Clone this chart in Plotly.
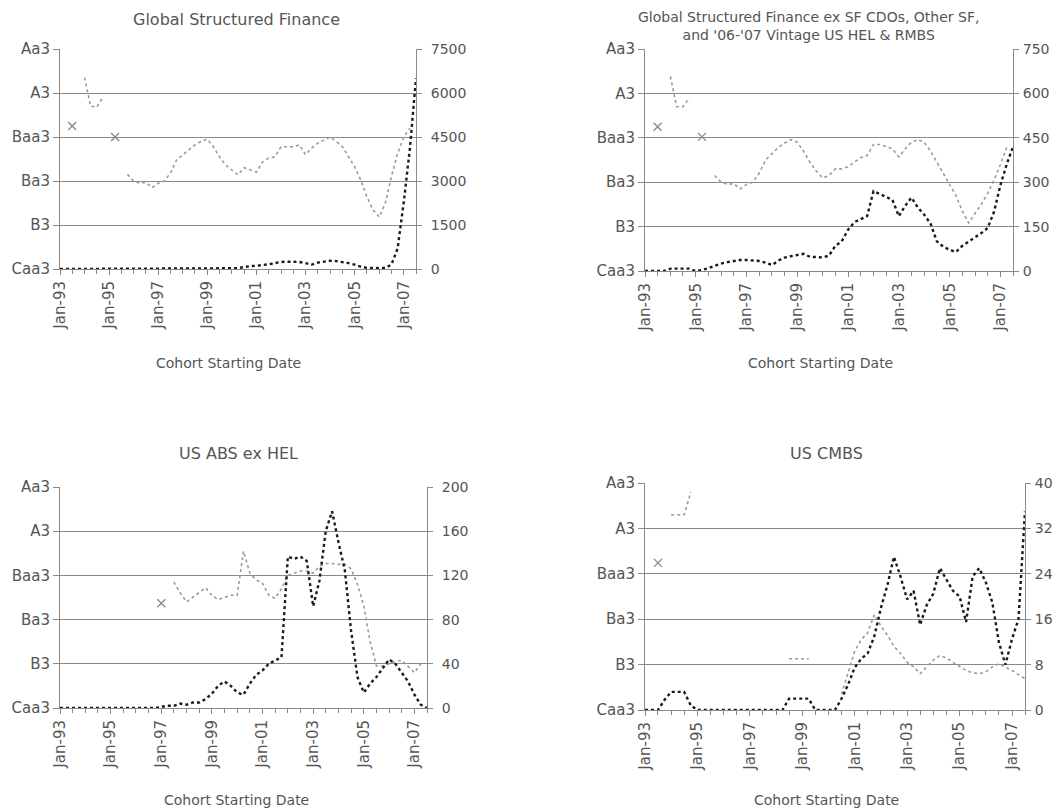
import pandas as pd
import plotly.graph_objects as go

# quarterly cohorts, Jan-93 .. Jul-07
dates = pd.date_range("1993-01-01", "2007-07-01", freq="QS")

rating_labels = ["Caa3", "B3", "Ba3", "Baa3", "A3", "Aa3"]
N = None

# panel 1: Global Structured Finance
gsf_rating = [N, N, 3.25, N, 4.35, 3.7, 3.68, 3.9, N, 3.0, N, 2.15, 2.0, 1.95, 1.97, 1.85,
              1.95, 2.0, 2.18, 2.48, 2.6, 2.72, 2.82, 2.9, 2.95, 2.78, 2.55, 2.36, 2.25, 2.14,
              2.3, 2.25, 2.2, 2.43, 2.52, 2.55, 2.78, 2.78, 2.78, 2.82, 2.6, 2.75, 2.86, 2.93,
              3.0, 2.9, 2.78, 2.55, 2.32, 2.02, 1.64, 1.34, 1.18, 1.5, 2.1, 2.63, 3.0, 3.2, N]
gsf_count = [0, 0, 0, 0, 0, 0, 0, 0, 0, 0, 0, 5, 5, 5, 5, 10,
             20, 25, 25, 25, 25, 20, 20, 25, 25, 25, 25, 20, 25, 30,
             70, 100, 110, 130, 160, 200, 240, 250, 250, 240, 200, 150, 220, 260,
             280, 270, 240, 200, 150, 80, 40, 30, 30, 40, 150, 700, 2300, 4100, 6500]

# panel 2: GSF ex SF CDOs, Other SF, and '06-'07 vintage US HEL & RMBS
gsfx_rating = [N, N, 3.25, N, 4.38, 3.7, 3.7, 3.9, N, 3.02, N, 2.15, 2.0, 1.95, 1.97, 1.85,
               1.95, 2.0, 2.2, 2.5, 2.65, 2.78, 2.88, 2.96, 2.9, 2.7, 2.45, 2.25, 2.1, 2.15,
               2.3, 2.3, 2.35, 2.45, 2.55, 2.6, 2.85, 2.85, 2.8, 2.75, 2.57, 2.75, 2.9, 2.96,
               2.9, 2.7, 2.45, 2.2, 1.95, 1.7, 1.35, 1.08, 1.3, 1.5, 1.75, 2.05, 2.4, 2.78, N]
gsfx_count = [0, 0, 0, 0, 8, 8, 8, 8, 0, 3, 10, 18, 25, 30, 34, 37,
              37, 36, 34, 28, 20, 35, 45, 50, 55, 58, 48, 46, 46, 52,
              85, 100, 140, 165, 175, 185, 270, 260, 250, 240, 185, 220, 248, 215,
              190, 160, 100, 82, 72, 64, 85, 100, 112, 128, 145, 200, 290, 360, 420]

# panel 3: US ABS ex HEL
abs_rating = [N, N, N, N, N, N, N, N, N, N, N, N, N, N, N, N,
              2.37, N, 2.85, 2.6, 2.4, 2.5, 2.6, 2.72, 2.55, 2.45, 2.5, 2.55, 2.55, 3.55,
              3.05, 2.9, 2.82, 2.55, 2.48, 2.7, 3.0, 3.05, 3.1, 3.1, 3.05, 3.2, 3.27, 3.27,
              3.25, 3.25, 3.15, 2.8, 2.3, 1.5, 0.95, 0.95, 1.0, 1.05, 1.08, 0.95, 0.8, 1.0, N]
abs_count = [0, 0, 0, 0, 0, 0, 0, 0, 0, 0, 0, 0, 0, 0, 0, 0,
             1, 2, 2, 4, 3, 5, 5, 8, 13, 20, 24, 20, 14, 12,
             22, 30, 34, 40, 43, 46, 137, 135, 137, 133, 92, 115, 160, 178,
             150, 125, 70, 28, 14, 22, 28, 36, 44, 40, 32, 24, 12, 3, 0]

# panel 4: US CMBS
cmbs_rating = [N, N, 3.24, N, 4.3, 4.3, 4.3, 4.8, N, N, N, N, N, N, N, N,
               N, N, N, N, N, N, 1.13, 1.13, 1.13, 1.13, N, N, N, N,
               0.35, 0.85, 1.3, 1.55, 1.7, 2.1, 1.85, 1.65, 1.4, 1.25, 1.05, 0.95, 0.8, 0.95,
               1.1, 1.2, 1.15, 1.05, 0.95, 0.87, 0.82, 0.8, 0.84, 0.95, 1.02, 0.95, 0.87, 0.78, 0.69]
cmbs_count = [0, 0, 0, 1.8, 3.2, 3.2, 3.2, 0.8, 0, 0, 0, 0, 0, 0, 0, 0,
              0, 0, 0, 0, 0, 0, 2, 2, 2, 2, 0, 0, 0, 0,
              2, 4.5, 7.5, 9, 10, 13, 18, 22, 27, 23.5, 19.5, 21, 15, 18.5,
              20.5, 25, 23, 21, 20, 15.5, 23.5, 25, 22.5, 19, 12, 8, 12.5, 16, 35]

titles = ["Global Structured Finance",
          "Global Structured Finance ex SF CDOs, Other SF,<br>and '06-'07 Vintage US HEL & RMBS",
          "US ABS ex HEL",
          "US CMBS"]
title_size = [16, 14, 16, 16]
right_max = [7500, 750, 200, 40]

panels = [(gsf_rating, gsf_count), (gsfx_rating, gsfx_count),
          (abs_rating, abs_count), (cmbs_rating, cmbs_count)]

W, H = 1058, 809
# plot boxes in pixels: left, right, top, bottom
boxes = [(60, 416, 49, 269), (645, 1013, 49, 271), (60, 427, 487, 708), (645, 1025, 483, 710)]
title_pos = [(236, 19), (808, 26), (238, 453), (826, 453)]
xtitle_pos = [(228, 363), (820, 363), (236, 800), (826, 800)]
right_standoff = [6, 1, 6, 1]

TXT = "#555"
FONT = "DejaVu Sans"
GRID = "#8a8a8a"

fig = go.Figure()
layout = {}
for k, ((rat, cnt), box) in enumerate(zip(panels, boxes)):
    n = k + 1
    xa = "x" if n == 1 else f"x{n}"
    yl = 2 * n - 1
    yr = 2 * n
    yla = "y" if yl == 1 else f"y{yl}"
    yra = f"y{yr}"
    l, r, t, b = box
    xdom = [l / W, r / W]
    ydom = [1 - b / H, 1 - t / H]

    fig.add_trace(go.Scatter(x=dates, y=rat, xaxis=xa, yaxis=yla, mode="lines",
                             line=dict(color="#9a9a9a", width=1.6, dash="dot"),
                             connectgaps=False, hoverinfo="skip"))
    # lone observations show as x markers
    iso_x, iso_y = [], []
    for i, v in enumerate(rat):
        prev_none = i == 0 or rat[i - 1] is None
        next_none = i == len(rat) - 1 or rat[i + 1] is None
        if v is not None and prev_none and next_none:
            iso_x.append(dates[i])
            iso_y.append(v)
    fig.add_trace(go.Scatter(x=iso_x, y=iso_y, xaxis=xa, yaxis=yla, mode="markers",
                             marker=dict(symbol="x-thin", size=8,
                                         line=dict(color="#888", width=1.3)),
                             hoverinfo="skip"))
    fig.add_trace(go.Scatter(x=dates, y=cnt, xaxis=xa, yaxis=yra, mode="lines",
                             line=dict(color="#1a1a1a", width=2.4, dash="dot"),
                             hoverinfo="skip"))

    layout[f"xaxis{'' if n == 1 else n}"] = dict(
        domain=xdom, anchor=yla, type="date",
        range=[dates[0], dates[-1]],
        tick0="1993-01-01", dtick="M24", tickformat="%b-%y", tickangle=-90,
        ticks="outside", ticklen=5, tickcolor=GRID,
        minor=dict(dtick="M6", ticks="outside", ticklen=4, tickcolor=GRID),
        showline=True, linecolor=GRID, linewidth=1, showgrid=False, automargin=False,
        tickfont=dict(family=FONT, size=15, color=TXT))
    layout[f"yaxis{'' if yl == 1 else yl}"] = dict(
        domain=ydom, anchor=xa, range=[0, 5],
        tickvals=list(range(6)), ticktext=rating_labels,
        ticks="outside", ticklen=6, tickcolor=GRID,
        showgrid=True, gridcolor=GRID, gridwidth=1, zeroline=False,
        showline=True, linecolor=GRID, linewidth=1, automargin=False,
        tickfont=dict(family=FONT, size=15, color=TXT))
    layout[f"yaxis{yr}"] = dict(
        domain=ydom, anchor=xa, overlaying=yla, side="right",
        range=[0, right_max[k]], dtick=right_max[k] / 5,
        ticks="outside", ticklen=5, tickcolor=GRID, ticklabelstandoff=right_standoff[k],
        showgrid=False, zeroline=False, automargin=False,
        showline=True, linecolor=GRID, linewidth=1,
        tickfont=dict(family=FONT, size=14, color=TXT))

annotations = []
for (tx, ty), txt, fs in zip(title_pos, titles, title_size):
    annotations.append(dict(x=tx / W, y=1 - ty / H, xref="paper", yref="paper",
                            text=txt, showarrow=False, xanchor="center", yanchor="middle",
                            font=dict(family=FONT, size=fs, color=TXT)))
for tx, ty in xtitle_pos:
    annotations.append(dict(x=tx / W, y=1 - ty / H, xref="paper", yref="paper",
                            text="Cohort Starting Date", showarrow=False,
                            xanchor="center", yanchor="middle",
                            font=dict(family=FONT, size=14, color=TXT)))

fig.update_layout(**layout)
fig.update_layout(width=W, height=H, autosize=False, showlegend=False,
                  margin=dict(l=0, r=0, t=0, b=0, autoexpand=False),
                  paper_bgcolor="white", plot_bgcolor="white",
                  annotations=annotations)

# drop the page's default body margin so the figure sits at the window origin
fig.write_html("out.html", config={"displayModeBar": False},
               post_script="document.body.style.margin='0px';")
